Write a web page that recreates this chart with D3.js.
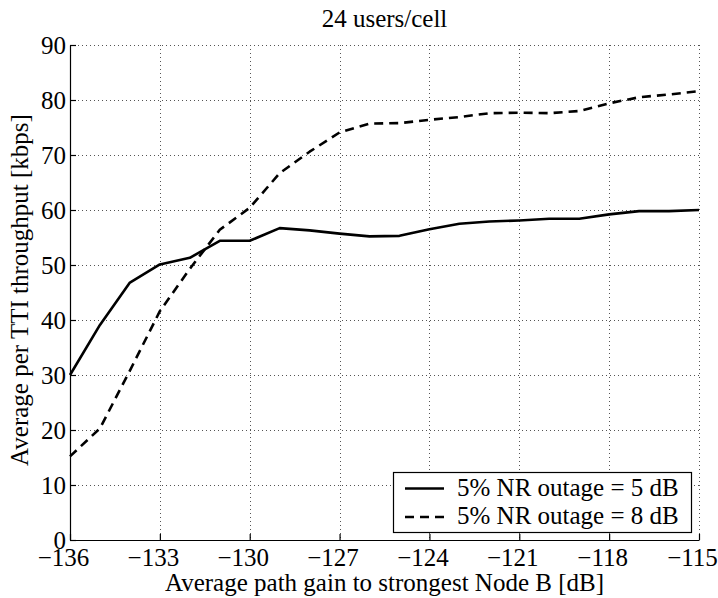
<!DOCTYPE html>
<html>
<head>
<meta charset="utf-8">
<script src="https://cdn.jsdelivr.net/npm/d3@7"></script>
<style>
  html, body { margin: 0; padding: 0; background: #fff; }
  svg { display: block; }
</style>
</head>
<body>
<svg id="chart" width="718" height="598"></svg>
<script>
// Path gain bins [dB]
const pathGain = [-136, -135, -134, -133, -132, -131, -130, -129, -128, -127, -126,
                  -125, -124, -123, -122, -121, -120, -119, -118, -117, -116, -115];
// Average per-TTI throughput [kbps], 5% NR outage = 5 dB
const nr5dB = [30.0, 39.1, 46.8, 50.1, 51.3, 54.4, 54.4, 56.7, 56.3, 55.7, 55.2,
               55.3, 56.5, 57.5, 57.9, 58.1, 58.4, 58.4, 59.2, 59.8, 59.8, 60.0];
// Average per-TTI throughput [kbps], 5% NR outage = 8 dB
const nr8dB = [15.2, 20.3, 30.8, 41.6, 49.3, 56.4, 60.4, 66.7, 70.6, 74.1, 75.7,
               75.8, 76.4, 76.9, 77.6, 77.7, 77.6, 78.0, 79.4, 80.5, 81.0, 81.6];

const xTicks = [-136, -133, -130, -127, -124, -121, -118, -115];
const yTicks = [0, 10, 20, 30, 40, 50, 60, 70, 80, 90];
const seriesNames = ["5% NR outage = 5 dB", "5% NR outage = 8 dB"];
const seriesDash = [null, "9,6"];

const FONT = '"Liberation Serif"';
const FS = 25;

const svg = d3.select("#chart");
const plotL = 70, plotR = 699, plotT = 45, plotB = 540;

const x = d3.scaleLinear().domain([-136, -115]).range([plotL, plotR]);
const y = d3.scaleLinear().domain([0, 90]).range([plotB, plotT]);

const minus = s => String(s).replace("-", "\u2212");
const serif = sel => sel.style("font-family", FONT).style("font-size", FS + "px").attr("fill", "#000");

// dotted grid
const grid = svg.append("g").attr("stroke", "#555").attr("stroke-width", 1)
  .attr("stroke-dasharray", "1,3").attr("fill", "none");
xTicks.forEach(t => {
  grid.append("line").attr("x1", Math.round(x(t)) + 0.5).attr("x2", Math.round(x(t)) + 0.5)
    .attr("y1", plotT).attr("y2", plotB);
});
yTicks.forEach(t => {
  grid.append("line").attr("y1", Math.round(y(t)) + 0.5).attr("y2", Math.round(y(t)) + 0.5)
    .attr("x1", plotL).attr("x2", plotR);
});

// axes with inward ticks
const xAxis = d3.axisBottom(x).tickValues(xTicks).tickSizeInner(-6).tickSizeOuter(0)
  .tickFormat(minus);
const yAxis = d3.axisLeft(y).tickValues(yTicks).tickSizeInner(-6).tickSizeOuter(0)
  .tickFormat(d => d);

const gx = svg.append("g").attr("transform", `translate(0,${plotB})`).call(xAxis);
const gy = svg.append("g").attr("transform", `translate(${plotL},0)`).call(yAxis);
[gx, gy].forEach(g => {
  g.selectAll("path, line").attr("stroke", "#000").attr("stroke-width", 1.2);
  g.selectAll("text").call(serif);
});
gx.selectAll("text").attr("dy", null).attr("y", 26).attr("x", -7);
gy.selectAll("text").attr("dy", "0.33em").attr("x", -4);

// series lines
const line = d3.line().x((d, i) => x(pathGain[i])).y(d => y(d));
[nr5dB, nr8dB].forEach((vals, k) => {
  svg.append("path").datum(vals).attr("d", line)
    .attr("fill", "none").attr("stroke", "#000").attr("stroke-width", 2.6)
    .attr("stroke-linejoin", "round")
    .attr("stroke-dasharray", seriesDash[k]);
});

// title and axis labels
const label = () => svg.append("text").call(serif).attr("text-anchor", "middle");
label().attr("x", (plotL + plotR) / 2).attr("y", 27).text("24 users/cell");
label().attr("x", (plotL + plotR) / 2).attr("y", 591).text("Average path gain to strongest Node B [dB]");
label().attr("transform", `translate(28,290) rotate(-90)`).text("Average per TTI throughput [kbps]");

// legend
const lg = svg.append("g");
lg.append("rect").attr("x", 393.5).attr("y", 472.5).attr("width", 298).attr("height", 60)
  .attr("fill", "#fff").attr("stroke", "#000").attr("stroke-width", 1.2);
seriesNames.forEach((name, k) => {
  const yy = 488.5 + k * 28.5;
  lg.append("line").attr("x1", 405).attr("x2", 444).attr("y1", yy).attr("y2", yy)
    .attr("stroke", "#000").attr("stroke-width", 2.6).attr("stroke-dasharray", seriesDash[k]);
  lg.append("text").attr("x", 457).attr("y", 496 + k * 27.5).call(serif).text(name);
});
</script>
</body>
</html>
